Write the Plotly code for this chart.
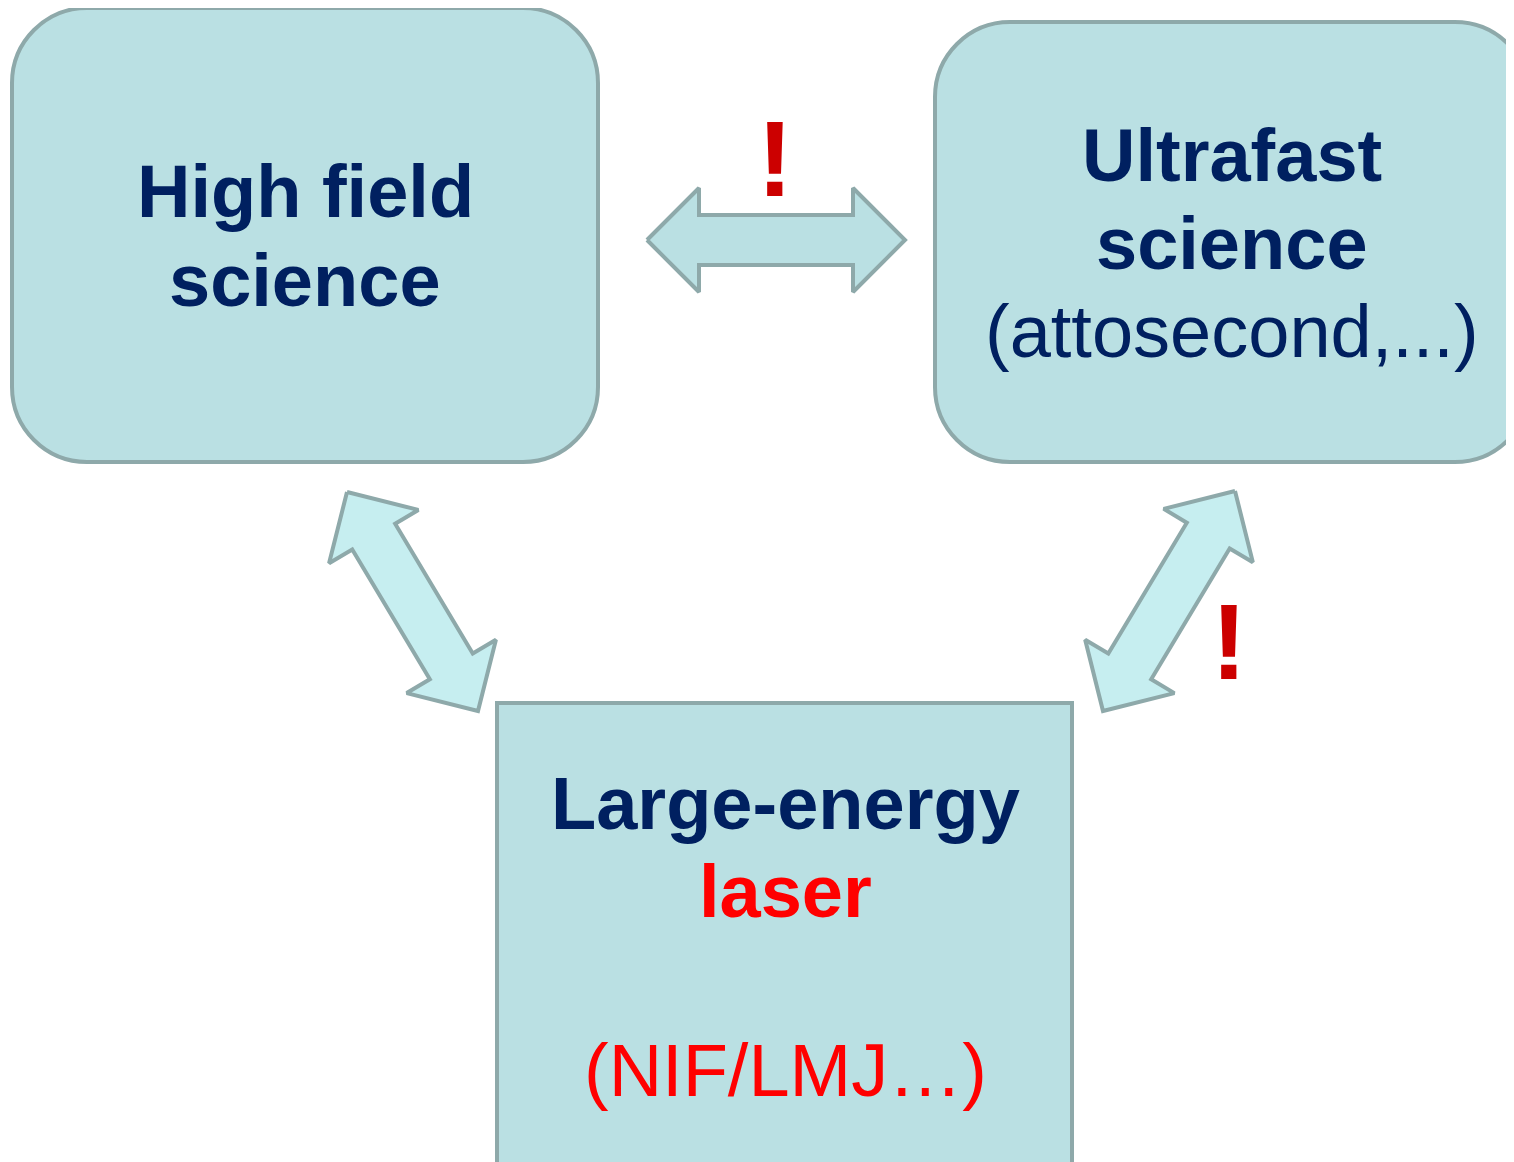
import plotly.graph_objects as go
import numpy as np

# canvas in pixels (the page body adds an 8px margin)
W, H = 1514, 1162
PAD = 8

# boxes: x0, x1, y0, y1, corner radius
box_x0 = [12, 935, 497]
box_x1 = [598, 1530, 1072]
box_y0 = [8, 22, 703]
box_y1 = [462, 462, 1175]
box_r = [75, 75, 0]

# text lines: text, x, baseline y, bold, colour
line_text = ["High field", "science",
             "Ultrafast", "science", "(attosecond,...)",
             "Large-energy", "laser", "(NIF/LMJ…)"]
line_x = [305, 305, 1232, 1232, 1232, 785, 785, 785]
line_base = [218, 307, 182, 270, 358, 830, 918, 1097]
line_bold = [True, True, True, True, False, True, True, False]
line_color = ["#002060"] * 6 + ["#ff0000", "#ff0000"]

# double arrows: the two tips
arrow_a = [(647, 240), (347, 492), (1235, 491)]
arrow_b = [(905, 240), (478, 711), (1103, 711)]
arrow_fill = ["#bae0e3", "#c6eef0", "#c6eef0"]

bang_x = [775, 1229]
bang_base = [197, 680]

FILL = "#bae0e3"
EDGE = "#8ea9aa"


def rounded_path(x0, x1, y0, y1, r):
    if r == 0:
        return f"M{x0},{y0} L{x1},{y0} L{x1},{y1} L{x0},{y1} Z"
    k = 0.5523 * r
    return (f"M{x0 + r},{y0} L{x1 - r},{y0} "
            f"C{x1 - r + k},{y0} {x1},{y0 + r - k} {x1},{y0 + r} "
            f"L{x1},{y1 - r} "
            f"C{x1},{y1 - r + k} {x1 - r + k},{y1} {x1 - r},{y1} "
            f"L{x0 + r},{y1} "
            f"C{x0 + r - k},{y1} {x0},{y1 - r + k} {x0},{y1 - r} "
            f"L{x0},{y0 + r} "
            f"C{x0},{y0 + r - k} {x0 + r - k},{y0} {x0 + r},{y0} Z")


def double_arrow(a, b, sw=25, hw=52, hl=52):
    a = np.array(a, float)
    b = np.array(b, float)
    d = b - a
    u = d / np.hypot(*d)
    n = np.array([-u[1], u[0]])
    pts = np.array([a,
                    a + u * hl + n * hw, a + u * hl + n * sw,
                    b - u * hl + n * sw, b - u * hl + n * hw,
                    b,
                    b - u * hl - n * hw, b - u * hl - n * sw,
                    a + u * hl - n * sw, a + u * hl - n * hw,
                    a])
    return pts[:, 0], pts[:, 1]


fig = go.Figure()

shapes = []
for x0, x1, y0, y1, r in zip(box_x0, box_x1, box_y0, box_y1, box_r):
    shapes.append(dict(type="path", path=rounded_path(x0, x1, y0, y1, r),
                       xref="x", yref="y", fillcolor=FILL,
                       line=dict(color=EDGE, width=4), layer="below"))

for a, b, c in zip(arrow_a, arrow_b, arrow_fill):
    xs, ys = double_arrow(a, b)
    fig.add_trace(go.Scatter(x=xs, y=ys, mode="lines", fill="toself",
                             fillcolor=c, line=dict(color=EDGE, width=4),
                             hoverinfo="skip", showlegend=False))

annotations = []
for t, x, yb, bold, col in zip(line_text, line_x, line_base, line_bold, line_color):
    size = 74
    annotations.append(dict(
        x=x, y=yb - 0.36 * size, xref="x", yref="y",
        text=f"<b>{t}</b>" if bold else t, showarrow=False,
        xanchor="center", yanchor="middle",
        font=dict(family="Liberation Sans, Arial", size=size, color=col)))

for x, yb in zip(bang_x, bang_base):
    size = 108
    annotations.append(dict(
        x=x, y=yb - 0.36 * size, xref="x", yref="y",
        text="<b>!</b>", showarrow=False,
        xanchor="center", yanchor="middle",
        font=dict(family="Liberation Sans, Arial", size=size,
                  color="#cc0000")))

fig.update_layout(
    width=W - PAD, height=H - PAD,
    margin=dict(l=0, r=0, t=0, b=0),
    paper_bgcolor="white", plot_bgcolor="white",
    xaxis=dict(range=[PAD, W], visible=False, fixedrange=True),
    yaxis=dict(range=[H, PAD], visible=False, fixedrange=True),
    shapes=shapes, annotations=annotations,
)

fig.write_html("out.html")
